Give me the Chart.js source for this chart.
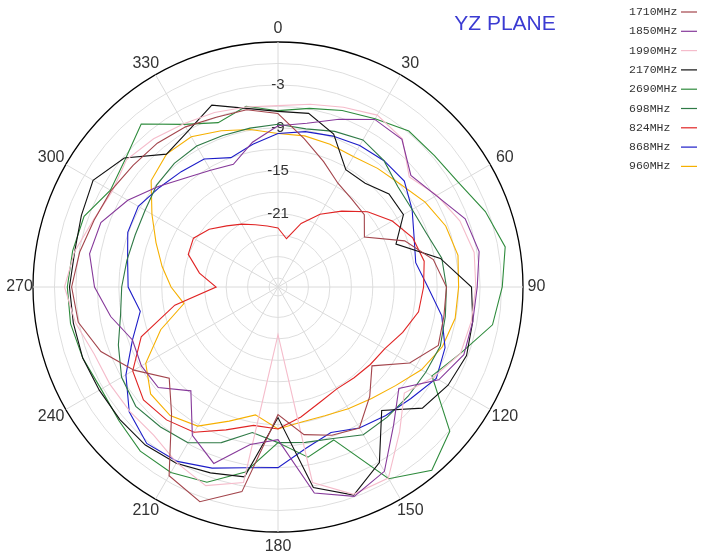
<!DOCTYPE html>
<html>
<head>
<meta charset="utf-8">
<script src="https://cdn.jsdelivr.net/npm/chart.js@4.4.1/dist/chart.umd.min.js"></script>
<style>
  html, body { margin: 0; padding: 0; background: #fff; overflow: hidden; }
  #wrap { position: relative; width: 708px; height: 554px; }
</style>
</head>
<body>
<div id="wrap"><canvas id="polar"></canvas></div>
<script>
// angles every 10 degrees, clockwise from top
const ANGLES = ["0","10","20","30","40","50","60","70","80","90","100","110",
  "120","130","140","150","160","170","180","190","200","210","220","230",
  "240","250","260","270","280","290","300","310","320","330","340","350"];

// gain in dB
const F1710 = [-7.0,-10.2,-12.6,-14.5,-15.2,-15.5,-17.3,-12.4,-9.2,-7.7,-7.7,-7.4,
  -10.0,-14.1,-11.3,-8.5,-9.2,-10.3,-13.4,-2.2,0.7,-0.8,-8.1,-11.4,
  -8.0,-4.9,-2.9,-2.4,-3.1,-3.9,-4.3,-4.8,-5.0,-5.4,-6.0,-6.1];
const F1850 = [-8.7,-8.0,-6.3,-4.2,-4.3,-7.0,-5.7,-3.4,-2.7,-3.4,-3.6,-3.6,
  -5.3,-9.2,-6.1,-1.5,-0.1,-2.0,-9.9,-8.9,-5.0,-7.3,-12.3,-9.4,
  -9.2,-9.6,-7.5,-5.6,-4.5,-4.9,-7.0,-9.4,-11.3,-12.4,-13.0,-10.7];
const F1990 = [-5.9,-5.3,-4.5,-3.5,-4.2,-7.3,-5.6,-4.2,-3.4,-3.6,-3.8,-4.1,
  -6.1,-8.2,-4.8,-0.4,-0.4,-3.5,-24.6,-3.5,-1.7,-2.9,-4.2,-4.2,
  -4.1,-3.9,-2.5,-1.4,-2.4,-3.8,-4.5,-3.6,-4.2,-4.9,-5.3,-5.7];
const F2170 = [-6.7,-6.6,-8.5,-12.3,-12.3,-11.0,-11.0,-13.7,-8.2,-4.2,-3.6,-3.2,
  -3.8,-4.9,-8.7,-2.9,-0.3,-2.8,-13.0,-4.3,-3.6,-2.8,-2.4,-2.4,
  -2.4,-2.2,-2.2,-2.1,-2.4,-2.0,-1.4,-3.2,-7.0,-6.1,-4.2,-5.9];
const F2690 = [-6.6,-5.9,-5.0,-4.1,-2.8,-2.7,-2.1,-0.4,1.0,0.1,-0.8,-4.1,
  -6.4,0.1,2.2,-0.3,-8.5,-7.1,-9.5,-5.0,-2.2,-1.3,-1.3,-2.2,
  -2.7,-2.2,-1.8,-1.8,-2.1,-2.4,-4.2,-3.4,-1.5,-5.0,-6.8,-5.6];
const F698 = [-8.5,-8.8,-8.1,-7.5,-8.2,-9.4,-9.6,-9.2,-8.0,-7.7,-7.5,-7.1,
  -7.4,-7.5,-7.5,-7.4,-8.7,-9.2,-9.5,-10.6,-8.1,-6.1,-5.7,-5.3,
  -6.0,-7.5,-8.9,-9.4,-9.8,-10.0,-9.8,-9.1,-8.7,-8.5,-8.7,-8.7];
const F824 = [-23.0,-24.4,-21.8,-19.5,-17.4,-14.9,-12.8,-11.2,-10.5,-10.9,-11.3,-12.7,
  -14.0,-14.4,-14.7,-14.8,-14.1,-12.8,-11.4,-11.6,-10.0,-7.8,-7.0,-6.7,
  -7.8,-10.9,-16.6,-22.6,-20.1,-17.9,-17.6,-18.7,-20.1,-21.1,-22.0,-22.6];
const F868 = [-9.8,-9.2,-8.8,-8.4,-8.2,-8.2,-9.6,-11.0,-11.7,-10.3,-8.0,-6.4,
  -5.7,-7.0,-7.8,-8.5,-9.6,-8.4,-6.0,-5.6,-4.3,-3.1,-2.7,-4.1,
  -6.7,-9.6,-11.7,-10.3,-9.9,-8.9,-8.7,-9.6,-10.2,-10.6,-12.0,-11.0];
const F960 = [-9.8,-9.8,-10.0,-10.2,-9.6,-8.9,-7.5,-6.3,-5.7,-6.0,-6.1,-6.8,
  -8.1,-9.8,-10.9,-11.6,-12.1,-12.1,-11.4,-13.1,-11.3,-8.8,-7.8,-8.0,
  -9.9,-13.8,-17.9,-16.3,-14.8,-13.1,-10.9,-8.1,-7.0,-7.0,-8.0,-8.9];

const SERIES_NAMES = ["1710MHz","1850MHz","1990MHz","2170MHz","2690MHz","698MHz","824MHz","868MHz","960MHz"];
const SERIES_DATA = [F1710, F1850, F1990, F2170, F2690, F698, F824, F868, F960];
const SERIES_COLORS = ["#a3454c","#86399a","#f5bccb","#111111","#2e8b3c","#2f7a46","#e02424","#1c1cc8","#f6b000"];

// radial grid: one circle every 3 dB, labels on a few of them
const GRID_DB = [-30,-27,-24,-21,-18,-15,-12,-9,-6,-3,0,3];
const TICK_LABELS = [-3,-9,-15,-21];

const FONT = "'Liberation Sans', Arial, sans-serif";

// angle labels every 30 degrees, placed with the scale's own geometry
const angleLabels = {
  id: "angleLabels",
  beforeDatasetsDraw(chart) {
    const r = chart.scales.r;
    const ctx = chart.ctx;
    ctx.save();
    ctx.font = "16px " + FONT;
    ctx.fillStyle = "#333";
    ctx.textAlign = "center";
    ctx.textBaseline = "middle";
    ANGLES.forEach((lab, i) => {
      if (i % 3 !== 0) return;
      const p = r.getPointPosition(i, r.drawingArea + 13.5);
      const deg = Number(lab);
      let dx = 0;
      if (deg > 0 && deg < 180) dx = 3;
      if (deg > 180) dx = -3;
      if (deg === 90 || deg === 270) dx = 0;
      ctx.fillText(lab, p.x + dx, p.y + (deg === 180 ? 1.5 : 0));
    });
    ctx.restore();
  }
};

const overlay = {
  id: "overlay",
  afterDraw(chart) {
    const ctx = chart.ctx;
    ctx.save();
    // title
    ctx.fillStyle = "#3b3bd2";
    ctx.font = "21px " + FONT;
    ctx.textAlign = "center";
    ctx.textBaseline = "middle";
    ctx.fillText("YZ PLANE", 505, 24);
    // legend
    ctx.font = "11.5px 'Liberation Mono', monospace";
    ctx.textAlign = "left";
    chart.data.datasets.forEach((ds, i) => {
      const y = 12 + i * 19.3;
      ctx.fillStyle = "#333";
      ctx.fillText(ds.label, 629, y);
      ctx.strokeStyle = ds.borderColor;
      ctx.lineWidth = 1.2;
      ctx.beginPath();
      ctx.moveTo(681, y);
      ctx.lineTo(697, y);
      ctx.stroke();
    });
    ctx.restore();
  }
};

new Chart(document.getElementById("polar"), {
  type: "radar",
  data: {
    labels: ANGLES,
    datasets: SERIES_NAMES.map((name, i) => ({
      label: name,
      data: SERIES_DATA[i],
      borderColor: SERIES_COLORS[i],
      backgroundColor: "transparent",
      borderWidth: 1.1,
      pointRadius: 0,
      fill: false,
      tension: 0,
    })),
  },
  options: {
    responsive: true,
    maintainAspectRatio: false,
    animation: false,
    devicePixelRatio: 1,
    layout: { padding: { left: 25, right: 176, top: 34, bottom: 14 } },
    plugins: { legend: { display: false }, tooltip: { enabled: false } },
    scales: {
      r: {
        min: -31.25,
        max: 3,
        afterBuildTicks: (s) => { s.ticks = GRID_DB.map((v) => ({ value: v })); },
        ticks: {
          display: true,
          showLabelBackdrop: false,
          backdropPadding: 0,
          color: "#333",
          font: { size: 15, family: FONT },
          callback: (v) => (TICK_LABELS.includes(v) ? String(v) : ""),
        },
        grid: {
          circular: true,
          color: (c) => (c.tick && c.tick.value === 3 ? "#000" : "#dedede"),
          lineWidth: (c) => (c.tick && c.tick.value === 3 ? 1.3 : 1),
        },
        angleLines: {
          color: (c) => (c.index % 3 === 0 ? "#dadada" : "rgba(0,0,0,0)"),
        },
        pointLabels: { display: false },
      },
    },
  },
  plugins: [angleLabels, overlay],
});
</script>
</body>
</html>
